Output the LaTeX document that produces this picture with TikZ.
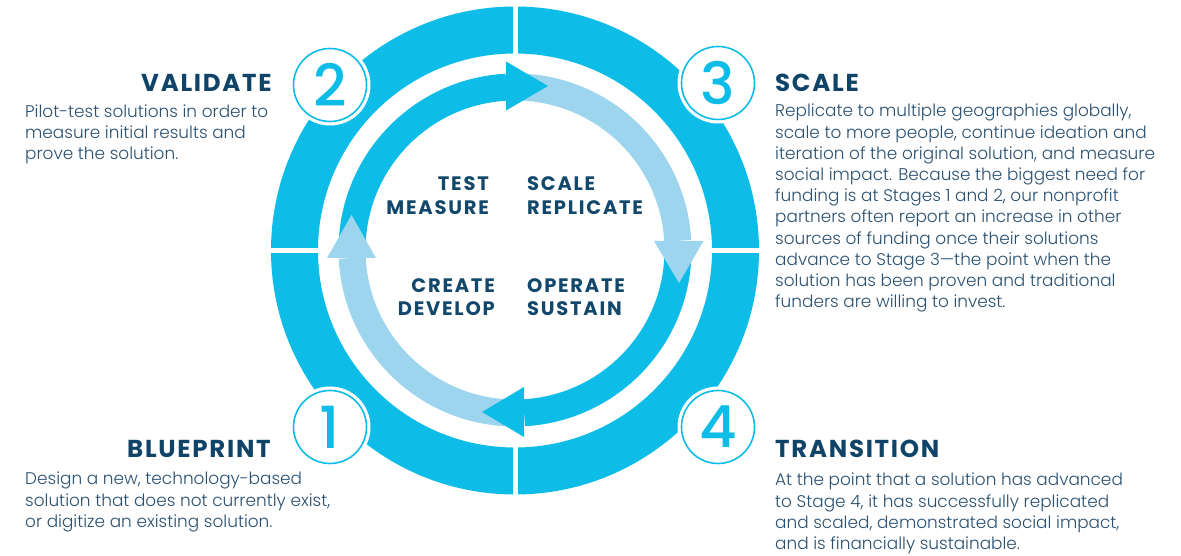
\documentclass[tikz,border=0pt]{standalone}
\usepackage{fontspec}
\setmainfont{Poppins}[UprightFont=* Light]
\newfontfamily\headfont[LetterSpace=7]{Poppins}
\newfontfamily\numfont{Poppins}[UprightFont=* Medium]
\newfontfamily\capfont[LetterSpace=9]{Poppins}
\usetikzlibrary{calc}
\definecolor{ringc}{HTML}{0DBDE8}
\definecolor{lightc}{HTML}{9DD5EE}
\definecolor{navy}{HTML}{0F4468}
\definecolor{bodyc}{HTML}{2A5070}
\definecolor{ctext}{HTML}{12486B}
\tikzset{
  numc/.style={circle, draw=ringc, line width=1.6pt, fill=white, minimum size=73pt, inner sep=0pt,
    text=ringc, font=\numfont\fontsize{58}{58}\selectfont,
    preaction={draw=white, line width=8pt}},
  darkband/.style={draw=ringc, line width=27pt},
  lightband/.style={draw=lightc, line width=27pt},
  heading/.style={anchor=base west, inner sep=0pt, text=navy, font=\headfont\bfseries\fontsize{24.5}{24.5}\selectfont},
  bodytext/.style={anchor=base west, inner sep=0pt, align=left, text=bodyc, font=\fontsize{16.9}{21.2}\selectfont},
  clabel/.style={inner sep=0pt, text=ctext, font=\capfont\bfseries\fontsize{19.5}{19.5}\selectfont}
}
\begin{document}
\begin{tikzpicture}[x=1pt,y=1pt]
\useasboundingbox (0,0) rectangle (1181,556);
% outer ring
\coordinate (c) at (515,305.5);
\fill[ringc, even odd rule] (c) circle[radius=244] (c) circle[radius=197];
\fill[white] (512.5,50) rectangle (517.5,560);
\fill[white] (260,303) rectangle (770,308);
% numbered circles
\node[numc] (n2) at (330,471) {2};
\node[numc] (n3) at (718,473) {3};
\node[numc] (n1) at (330,129) {1};
\node[numc] (n4) at (718,129) {4};
% inner cycle
\coordinate (ic) at (515,306);
\draw[darkband] ($(ic)+(177:163)$) arc[start angle=177, end angle=93, radius=163];
\draw[lightband] ($(ic)+(90:163)$) arc[start angle=90, end angle=3.2, radius=163];
\draw[darkband] ($(ic)+(-1.5:163)$) arc[start angle=-1.5, end angle=-86.8, radius=163];
\draw[lightband] ($(ic)+(-93:163)$) arc[start angle=-93, end angle=-177.2, radius=163];
\fill[ringc] (506,494.5) -- (548,470) -- (506,445.5) -- cycle;
\fill[lightc] (654,315) -- (703.5,315) -- (679,273) -- cycle;
\fill[ringc] (524,169) -- (482,144) -- (524,119) -- cycle;
\fill[lightc] (327,298) -- (376,298) -- (351.5,341) -- cycle;
% centre labels
\node[clabel, anchor=base east] (test) at (489,365) {TEST};
\node[clabel, anchor=base east] (measure) at (489,341) {MEASURE};
\node[clabel, anchor=base west] (scale) at (527,365) {SCALE};
\node[clabel, anchor=base west] (replicate) at (527,341) {REPLICATE};
\node[clabel, anchor=base east] (create) at (495,263) {CREATE};
\node[clabel, anchor=base east] (develop) at (495,240) {DEVELOP};
\node[clabel, anchor=base west] (operate) at (527,263) {OPERATE};
\node[clabel, anchor=base west] (sustain) at (527,240) {SUSTAIN};
% headings
\node[heading] (hval) at (141,464.5) {VALIDATE};
\node[heading] (hsca) at (775,464.5) {SCALE};
\node[heading] (hblu) at (127,98.5) {BLUEPRINT};
\node[heading] (htra) at (775,98.5) {TRANSITION};
% body texts (anchored at the baseline of the last line)
\node[bodytext] (bval) at (25,396) {Pilot-test solutions in order to\\measure initial results and\\prove the solution.};
\node[bodytext] (bsca) at (775,248.2) {Replicate to multiple geographies globally,\\scale to more people, continue ideation and\\iteration of the original solution, and measure\\social impact. Because the biggest need for\\funding is at Stages 1 and 2, our nonprofit\\partners often report an increase in other\\sources of funding once their solutions\\advance to Stage 3\textemdash the point when the\\solution has been proven and traditional\\funders are willing to invest.};
\node[bodytext] (bblu) at (25,28.6) {Design a new, technology-based\\solution that does not currently exist,\\or digitize an existing solution.};
\node[bodytext] (btra) at (775,6.4) {At the point that a solution has advanced\\to Stage 4, it has successfully replicated\\and scaled, demonstrated social impact,\\and is financially sustainable.};
\end{tikzpicture}
\end{document}
